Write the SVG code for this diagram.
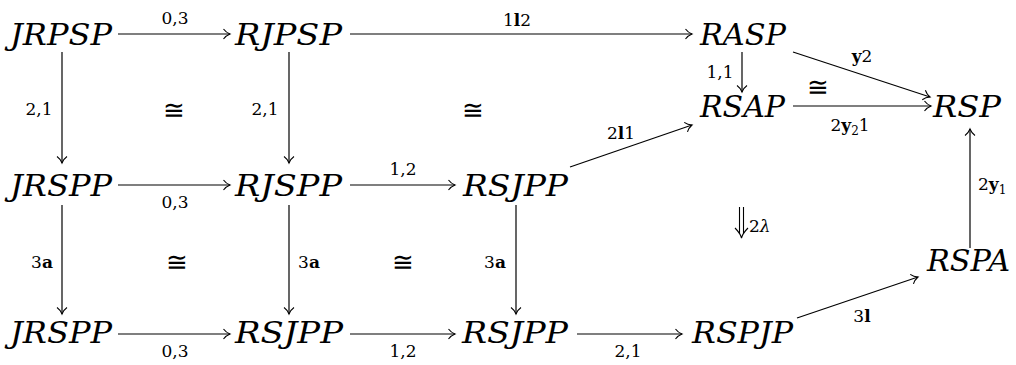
<svg xmlns="http://www.w3.org/2000/svg" width="1016" height="365" viewBox="0 0 1016 365">
<style>
.node{font-family:'DejaVu Serif','Liberation Serif',serif;font-style:italic;font-size:29px;fill:#000}
.lbl{font-family:'DejaVu Serif','Liberation Serif',serif;font-size:17px;fill:#000}
.iso{font-family:'DejaVu Serif','Liberation Serif',serif;font-size:26px;fill:#000}
.b{font-weight:bold}
.c{stroke:#000;stroke-width:1.2;fill:none;marker-end:url(#ah)}
</style>
<defs>
<marker id="ah" viewBox="-8 -6 10 12" refX="0" refY="0" markerWidth="10" markerHeight="12" markerUnits="userSpaceOnUse" orient="auto">
<path d="M-6.5,-5 C-4.5,-2.2 -1.5,-0.6 0,0 C-1.5,0.6 -4.5,2.2 -6.5,5" stroke="#000" stroke-width="1.1" fill="none"/>
</marker>
</defs>
<rect width="1016" height="365" fill="#fff"/>
<g id="n1"><text class="node" x="10" y="45" textLength="102" lengthAdjust="spacingAndGlyphs">JRPSP</text></g>
<g id="n2"><text class="node" x="235" y="45" textLength="107" lengthAdjust="spacingAndGlyphs">RJPSP</text></g>
<g id="n3"><text class="node" x="700" y="45" textLength="86" lengthAdjust="spacingAndGlyphs">RASP</text></g>
<g id="n4"><text class="node" x="700" y="117" textLength="85" lengthAdjust="spacingAndGlyphs">RSAP</text></g>
<g id="n5"><text class="node" x="933" y="117" textLength="68" lengthAdjust="spacingAndGlyphs">RSP</text></g>
<g id="n6"><text class="node" x="10" y="196" textLength="102" lengthAdjust="spacingAndGlyphs">JRSPP</text></g>
<g id="n7"><text class="node" x="235" y="196" textLength="107" lengthAdjust="spacingAndGlyphs">RJSPP</text></g>
<g id="n8"><text class="node" x="463" y="196" textLength="105" lengthAdjust="spacingAndGlyphs">RSJPP</text></g>
<g id="n9"><text class="node" x="927" y="271" textLength="83" lengthAdjust="spacingAndGlyphs">RSPA</text></g>
<g id="n10"><text class="node" x="10" y="343" textLength="102" lengthAdjust="spacingAndGlyphs">JRSPP</text></g>
<g id="n11"><text class="node" x="235" y="343" textLength="108" lengthAdjust="spacingAndGlyphs">RSJPP</text></g>
<g id="n12"><text class="node" x="462" y="343" textLength="106" lengthAdjust="spacingAndGlyphs">RSJPP</text></g>
<g id="n13"><text class="node" x="692" y="343" textLength="101" lengthAdjust="spacingAndGlyphs">RSPJP</text></g>
<g id="connectors">
<line class="c" x1="118" y1="34" x2="230" y2="34"/>
<line class="c" x1="350" y1="34" x2="692" y2="34"/>
<line class="c" x1="62" y1="52" x2="62" y2="163"/>
<line class="c" x1="289" y1="52" x2="289" y2="163"/>
<line class="c" x1="742" y1="52" x2="742" y2="92"/>
<line class="c" x1="793" y1="52" x2="930" y2="97"/>
<line class="c" x1="793" y1="106" x2="931" y2="106"/>
<line class="c" x1="118" y1="185" x2="230" y2="185"/>
<line class="c" x1="350" y1="185" x2="455" y2="185"/>
<line class="c" x1="570" y1="167" x2="692" y2="125"/>
<line class="c" x1="62" y1="205" x2="62" y2="314"/>
<line class="c" x1="289" y1="205" x2="289" y2="314"/>
<line class="c" x1="516" y1="205" x2="516" y2="314"/>
<line class="c" x1="970" y1="248" x2="970" y2="129"/>
<line class="c" x1="118" y1="334" x2="230" y2="334"/>
<line class="c" x1="350" y1="334" x2="455" y2="334"/>
<line class="c" x1="577" y1="334" x2="682" y2="334"/>
<line class="c" x1="797" y1="318" x2="918" y2="277"/>
<g stroke="#000" stroke-width="1.1" fill="none">
<line x1="739.5" y1="207" x2="739.5" y2="234"/>
<line x1="743.5" y1="207" x2="743.5" y2="234"/>
<path d="M735,228 C738,231 740.5,234 741.5,238 C742.5,234 745,231 748,228"/>
</g>
</g>
<g id="labels">
<text class="lbl" x="175" y="24" text-anchor="middle">0,3</text>
<text class="lbl" x="517" y="26" text-anchor="middle">1<tspan class="b">l</tspan>2</text>
<text class="lbl" x="39" y="115" text-anchor="middle">2,1</text>
<text class="lbl" x="265" y="115" text-anchor="middle">2,1</text>
<text class="iso" x="174" y="119" text-anchor="middle">≅</text>
<text class="iso" x="473" y="119" text-anchor="middle">≅</text>
<text class="lbl" x="720" y="78" text-anchor="middle">1,1</text>
<text class="lbl" x="862" y="62" text-anchor="middle"><tspan class="b">y</tspan>2</text>
<text class="iso" x="818" y="96" text-anchor="middle">≅</text>
<text class="lbl" x="850" y="131" text-anchor="middle">2<tspan class="b">y</tspan><tspan font-size="12" dy="4">2</tspan><tspan dy="-4">1</tspan></text>
<text class="lbl" x="175" y="208" text-anchor="middle">0,3</text>
<text class="lbl" x="403" y="175" text-anchor="middle">1,2</text>
<text class="lbl" x="621" y="139" text-anchor="middle">2<tspan class="b">l</tspan>1</text>
<text class="lbl" x="42" y="268" text-anchor="middle">3<tspan class="b">a</tspan></text>
<text class="lbl" x="309" y="268" text-anchor="middle">3<tspan class="b">a</tspan></text>
<text class="lbl" x="495" y="268" text-anchor="middle">3<tspan class="b">a</tspan></text>
<text class="iso" x="177" y="271" text-anchor="middle">≅</text>
<text class="iso" x="403" y="271" text-anchor="middle">≅</text>
<text class="lbl" x="749" y="232">2<tspan font-style="italic">λ</tspan></text>
<text class="lbl" x="978" y="190">2<tspan class="b">y</tspan><tspan font-size="12" dy="4">1</tspan></text>
<text class="lbl" x="862" y="322" text-anchor="middle">3<tspan class="b">l</tspan></text>
<text class="lbl" x="175" y="357" text-anchor="middle">0,3</text>
<text class="lbl" x="403" y="357" text-anchor="middle">1,2</text>
<text class="lbl" x="628" y="357" text-anchor="middle">2,1</text>
</g>
</svg>
